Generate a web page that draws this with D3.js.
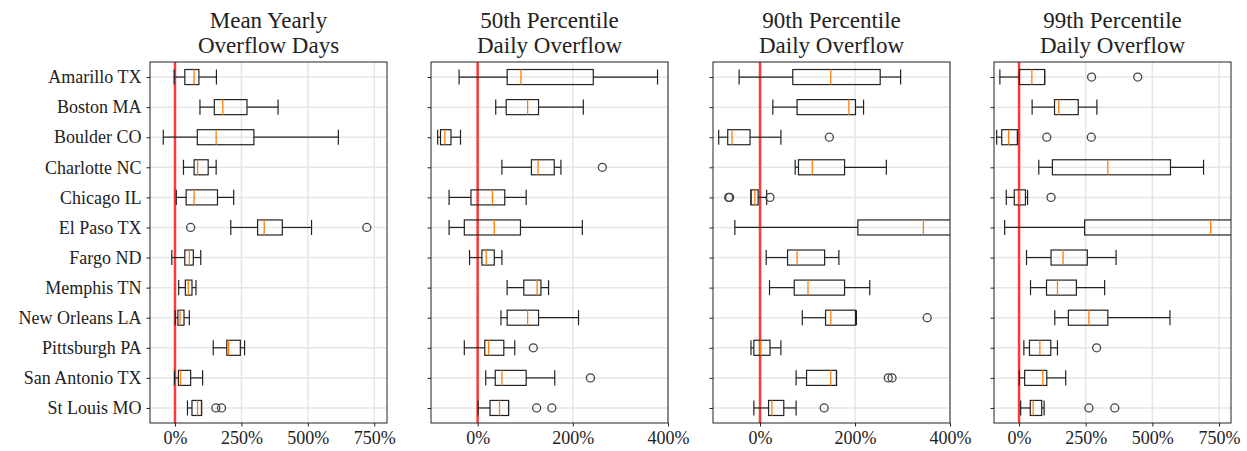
<!DOCTYPE html>
<html>
<head>
<meta charset="utf-8">
<script src="https://cdn.jsdelivr.net/npm/d3@7"></script>
<style>
  body { margin: 0; background: #fff; }
  text { font-family: "Liberation Serif", "Times New Roman", serif; fill: #222; }
</style>
</head>
<body>
<svg id="svg" width="1247" height="451"></svg>
<script>
var cities = ["Amarillo TX", "Boston MA", "Boulder CO", "Charlotte NC", "Chicago IL", "El Paso TX",
              "Fargo ND", "Memphis TN", "New Orleans LA", "Pittsburgh PA", "San Antonio TX", "St Louis MO"];

var titles = [["Mean Yearly", "Overflow Days"], ["50th Percentile", "Daily Overflow"],
              ["90th Percentile", "Daily Overflow"], ["99th Percentile", "Daily Overflow"]];

// [whisker low, q1, median, q3, whisker high] in percent
var meanDays = [
    [-3, 37, 72, 90, 156], [94, 148, 180, 271, 388], [-44, 84, 155, 297, 615], [32, 72, 85, 125, 155],
    [5, 42, 72, 160, 221], [210, 311, 336, 404, 514], [-12, 37, 54, 69, 97], [14, 39, 50, 64, 79],
    [1, 11, 19, 34, 54], [144, 195, 202, 246, 262], [-2, 13, 21, 59, 104], [47, 64, 85, 100, 100]];
var meanDaysOut = [[], [], [], [], [], [59, 722], [], [], [], [], [], [154, 175]];

var p50 = [
    [-39, 62, 91, 243, 378], [38, 60, 105, 128, 222], [-84, -78, -69, -56, -36], [51, 113, 127, 161, 175],
    [-60, -14, 31, 57, 102], [-60, -28, 35, 90, 220], [-17, 9, 18, 35, 51], [62, 97, 125, 133, 149],
    [49, 62, 105, 128, 212], [-28, 15, 23, 55, 78], [17, 37, 51, 102, 162], [1, 26, 46, 65, 65]];
var p50Out = [[], [], [], [262], [], [], [], [], [], [117], [237], [124, 156]];

var p90 = [
    [-44, 69, 149, 253, 296], [27, 78, 187, 201, 218], [-87, -68, -59, -21, 44], [74, 81, 110, 178, 266],
    [-19, -19, -11, -4, 14], [-53, 206, 344, 460, 620], [13, 58, 78, 136, 166], [20, 72, 101, 178, 231],
    [89, 138, 149, 201, 203], [-19, -13, 1, 21, 44], [76, 98, 149, 161, 161], [-13, 18, 25, 50, 76]];
var p90Out = [[], [], [146], [], [-66, -64, 21], [], [], [], [352], [], [270, 278], [135]];

var p99 = [
    [-72, 1, 48, 96, 96], [49, 133, 149, 222, 292], [-84, -65, -39, -6, -6], [74, 125, 333, 568, 692],
    [-48, -18, 1, 24, 32], [-54, 246, 719, 900, 1100], [28, 120, 165, 256, 364], [43, 103, 144, 215, 321],
    [134, 185, 262, 333, 566], [18, 39, 78, 119, 144], [1, 21, 89, 104, 175], [6, 42, 53, 85, 94]];
var p99Out = [[272, 445], [], [104, 271], [], [120], [], [], [], [], [291], [], [262, 359]];

var stats = [meanDays, p50, p90, p99],
    outs = [meanDaysOut, p50Out, p90Out, p99Out],
    domains = [[-94, 798], [-98, 400], [-99, 400], [-94, 795]],
    ticks = [[0, 250, 500, 750], [0, 200, 400], [0, 200, 400], [0, 250, 500, 750]];

var svg = d3.select("#svg"),
    lefts = [150, 431, 713, 994],
    pw = 237, yTop = 62, yBot = 423;

var y = d3.scaleLinear().domain([0.5, 12.5]).range([yTop, yBot]);
var bh = (y(1) - y(0)) * 0.5, cap = bh / 2;

var grid = "#e6e6e6", ink = "#222";

stats.forEach(function(data, p) {
    var x = d3.scaleLinear().domain(domains[p]).range([0, pw]);
    var g = svg.append("g").attr("transform", "translate(" + lefts[p] + ",0)");

    g.append("clipPath").attr("id", "clip" + p)
        .append("rect").attr("x", 0).attr("y", yTop).attr("width", pw).attr("height", yBot - yTop);

    // grid
    g.selectAll(".vg").data(ticks[p]).enter().append("line")
        .attr("x1", d => x(d)).attr("x2", d => x(d)).attr("y1", yTop).attr("y2", yBot)
        .attr("stroke", grid).attr("stroke-width", 1.5);
    g.selectAll(".hg").data(cities).enter().append("line")
        .attr("x1", 0).attr("x2", pw).attr("y1", (_, i) => y(i + 1)).attr("y2", (_, i) => y(i + 1))
        .attr("stroke", grid).attr("stroke-width", 1.5);

    var plot = g.append("g").attr("clip-path", "url(#clip" + p + ")");

    // zero line
    plot.append("line").attr("x1", x(0)).attr("x2", x(0)).attr("y1", yTop).attr("y2", yBot)
        .attr("stroke", "#ff1a1a").attr("stroke-width", 2.5).attr("opacity", 0.85);

    var rows = plot.selectAll(".row").data(data).enter().append("g")
        .attr("transform", (_, i) => "translate(0," + y(i + 1) + ")");

    rows.append("line").attr("x1", d => x(d[0])).attr("x2", d => x(d[1]))
        .attr("stroke", ink).attr("stroke-width", 1.2);
    rows.append("line").attr("x1", d => x(d[3])).attr("x2", d => x(d[4]))
        .attr("stroke", ink).attr("stroke-width", 1.2);
    rows.append("line").attr("x1", d => x(d[0])).attr("x2", d => x(d[0])).attr("y1", -cap).attr("y2", cap)
        .attr("stroke", ink).attr("stroke-width", 1.2);
    rows.append("line").attr("x1", d => x(d[4])).attr("x2", d => x(d[4])).attr("y1", -cap).attr("y2", cap)
        .attr("stroke", ink).attr("stroke-width", 1.2);
    rows.append("rect").attr("x", d => x(d[1])).attr("width", d => x(d[3]) - x(d[1]))
        .attr("y", -bh / 2).attr("height", bh)
        .attr("fill", "none").attr("stroke", ink).attr("stroke-width", 1.2);
    rows.append("line").attr("x1", d => x(d[2])).attr("x2", d => x(d[2])).attr("y1", -bh / 2).attr("y2", bh / 2)
        .attr("stroke", "#ff7f0e").attr("stroke-width", 1.3);

    rows.selectAll("circle").data((_, i) => outs[p][i]).enter().append("circle")
        .attr("cx", d => x(d)).attr("cy", 0).attr("r", 4)
        .attr("fill", "none").attr("stroke", "#444").attr("stroke-width", 1.3);

    // frame
    g.append("rect").attr("x", 0).attr("y", yTop).attr("width", pw).attr("height", yBot - yTop)
        .attr("fill", "none").attr("stroke", ink).attr("stroke-width", 1);

    // x axis
    var xa = g.append("g").attr("transform", "translate(0," + yBot + ")")
        .call(d3.axisBottom(x).tickValues(ticks[p]).tickSize(3.5).tickPadding(5).tickFormat(d => d + "%"));
    xa.select(".domain").remove();
    xa.selectAll("line").attr("stroke", ink);
    xa.selectAll("text").attr("font-size", 18).attr("font-family", "Liberation Serif").attr("fill", ink);

    // y axis
    var ya = g.append("g")
        .call(d3.axisLeft(y).tickValues(d3.range(1, 13)).tickSize(3.5).tickPadding(5).tickFormat(d => p ? "" : cities[d - 1]));
    ya.select(".domain").remove();
    ya.selectAll("line").attr("stroke", ink);
    ya.selectAll("text").attr("font-size", 18).attr("font-family", "Liberation Serif").attr("fill", ink);

    // title
    g.append("text").attr("x", pw / 2).attr("text-anchor", "middle").attr("font-size", 23)
        .selectAll("tspan").data(titles[p]).enter().append("tspan")
        .attr("x", pw / 2).attr("y", (_, i) => 28 + i * 25).text(d => d);
});
</script>
</body>
</html>
